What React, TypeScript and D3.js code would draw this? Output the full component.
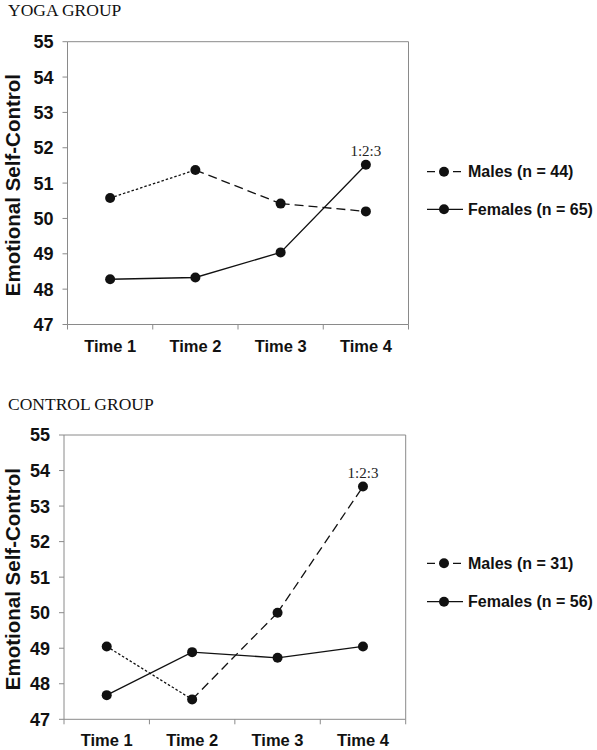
import React from "react";
import * as d3 from "d3";

const times = ["Time 1", "Time 2", "Time 3", "Time 4"];
const yTicks = [47, 48, 49, 50, 51, 52, 53, 54, 55];

const yogaMales = [50.58, 51.37, 50.42, 50.2];
const yogaFemales = [48.28, 48.33, 49.04, 51.52];
const controlMales = [49.05, 47.56, 50.0, 53.55];
const controlFemales = [47.68, 48.89, 48.73, 49.05];

const yogaLegend = ["Males (n = 44)", "Females (n = 65)"];
const controlLegend = ["Males (n = 31)", "Females (n = 56)"];
const annotation = "1:2:3";

const SANS = "'Liberation Sans', Arial, sans-serif";
const SERIF = "'Liberation Serif', 'Times New Roman', serif";

type PanelProps = {
  title: string;
  titleY: number;
  left: number;
  right: number;
  top: number;
  bottom: number;
  males: number[];
  females: number[];
  legend: string[];
  legendY: number[];
  annotateMales: boolean;
};

function Panel(p: PanelProps) {
  const x = d3.scaleBand<string>().domain(times).range([p.left, p.right]);
  const y = d3.scaleLinear().domain([47, 55]).range([p.bottom, p.top]);
  const cx = (i: number) => (x(times[i]) as number) + x.bandwidth() / 2;
  const line = d3
    .line<number>()
    .x((_, i) => cx(i))
    .y((d) => y(d));
  const femalesPath = line(p.females) || "";
  const maleSegs = p.males.slice(0, -1).map((v, i) => ({
    x1: cx(i),
    y1: y(v),
    x2: cx(i + 1),
    y2: y(p.males[i + 1]),
    dash: i === 0 ? "2.5,2" : "9,5",
  }));
  const annIdx = 3;
  const annVal = p.annotateMales ? p.males[annIdx] : p.females[annIdx];
  const axisColor = "#8a8a8a";
  const bandEdges = times.map((t) => x(t) as number).concat([p.right]);
  const lx1 = 427;
  const lx2 = 463;
  const ldot = 444;
  const R = 5;
  return (
    <g>
      <text x={8} y={p.titleY} fontFamily={SERIF} fontSize={17.5} fill="#111">
        {p.title}
      </text>
      <line x1={p.left} x2={p.right} y1={p.top} y2={p.top} stroke={axisColor} strokeWidth={1} />
      <line x1={p.right} x2={p.right} y1={p.top} y2={p.bottom} stroke={axisColor} strokeWidth={1} />
      <line x1={p.left} x2={p.left} y1={p.top} y2={p.bottom} stroke={axisColor} strokeWidth={1} />
      <line x1={p.left} x2={p.right} y1={p.bottom} y2={p.bottom} stroke={axisColor} strokeWidth={1} />
      {yTicks.map((t) => (
        <g key={t}>
          <line x1={p.left - 5} x2={p.left} y1={y(t)} y2={y(t)} stroke={axisColor} strokeWidth={1} />
          <text
            x={p.left - 14}
            y={y(t)}
            dy="0.36em"
            textAnchor="end"
            fontFamily={SANS}
            fontWeight="bold"
            fontSize={18}
            fill="#111"
          >
            {t}
          </text>
        </g>
      ))}
      {bandEdges.map((e, i) => (
        <line key={i} x1={e} x2={e} y1={p.bottom} y2={p.bottom + 5} stroke={axisColor} strokeWidth={1} />
      ))}
      {times.map((t, i) => (
        <text
          key={t}
          x={cx(i)}
          y={p.bottom + 27}
          textAnchor="middle"
          fontFamily={SANS}
          fontWeight="bold"
          fontSize={16.5}
          fill="#111"
        >
          {t}
        </text>
      ))}
      <text
        transform={`translate(20,${(p.top + p.bottom) / 2 + 2}) rotate(-90)`}
        textAnchor="middle"
        fontFamily={SANS}
        fontWeight="bold"
        fontSize={20.5}
        fill="#111"
      >
        Emotional Self-Control
      </text>
      {maleSegs.map((s, i) => (
        <line
          key={i}
          x1={s.x1}
          y1={s.y1}
          x2={s.x2}
          y2={s.y2}
          stroke="#111"
          strokeWidth={1.3}
          strokeDasharray={s.dash}
        />
      ))}
      <path d={femalesPath} fill="none" stroke="#111" strokeWidth={1.3} />
      {p.males.map((v, i) => (
        <circle key={"m" + i} cx={cx(i)} cy={y(v)} r={R} fill="#111" />
      ))}
      {p.females.map((v, i) => (
        <circle key={"f" + i} cx={cx(i)} cy={y(v)} r={R} fill="#111" />
      ))}
      <text
        x={cx(annIdx)}
        y={y(annVal) - 9}
        textAnchor="middle"
        fontFamily={SERIF}
        fontSize={15}
        fill="#222"
      >
        {annotation}
      </text>
      <line x1={lx1} x2={lx2} y1={p.legendY[0]} y2={p.legendY[0]} stroke="#111" strokeWidth={1.3} strokeDasharray="8,5" />
      <circle cx={ldot} cy={p.legendY[0]} r={R} fill="#111" />
      <text x={468} y={p.legendY[0]} dy="0.36em" fontFamily={SANS} fontWeight="bold" fontSize={16} fill="#111">
        {p.legend[0]}
      </text>
      <line x1={lx1} x2={lx2} y1={p.legendY[1]} y2={p.legendY[1]} stroke="#111" strokeWidth={1.3} />
      <circle cx={ldot} cy={p.legendY[1]} r={R} fill="#111" />
      <text x={468} y={p.legendY[1]} dy="0.36em" fontFamily={SANS} fontWeight="bold" fontSize={16} fill="#111">
        {p.legend[1]}
      </text>
    </g>
  );
}

export default function App() {
  return (
    <svg
      width={597}
      height={750}
      style={{ position: "absolute", left: 0, top: 0, background: "#fff" }}
    >
      <rect width={597} height={750} fill="#fff" />
      <Panel
        title="YOGA GROUP"
        titleY={16}
        left={67.5}
        right={408.5}
        top={41.7}
        bottom={324.5}
        males={yogaMales}
        females={yogaFemales}
        legend={yogaLegend}
        legendY={[171.7, 209.3]}
        annotateMales={false}
      />
      <Panel
        title="CONTROL GROUP"
        titleY={410}
        left={64}
        right={405.7}
        top={435}
        bottom={719.3}
        males={controlMales}
        females={controlFemales}
        legend={controlLegend}
        legendY={[563.3, 601.7]}
        annotateMales={true}
      />
    </svg>
  );
}
